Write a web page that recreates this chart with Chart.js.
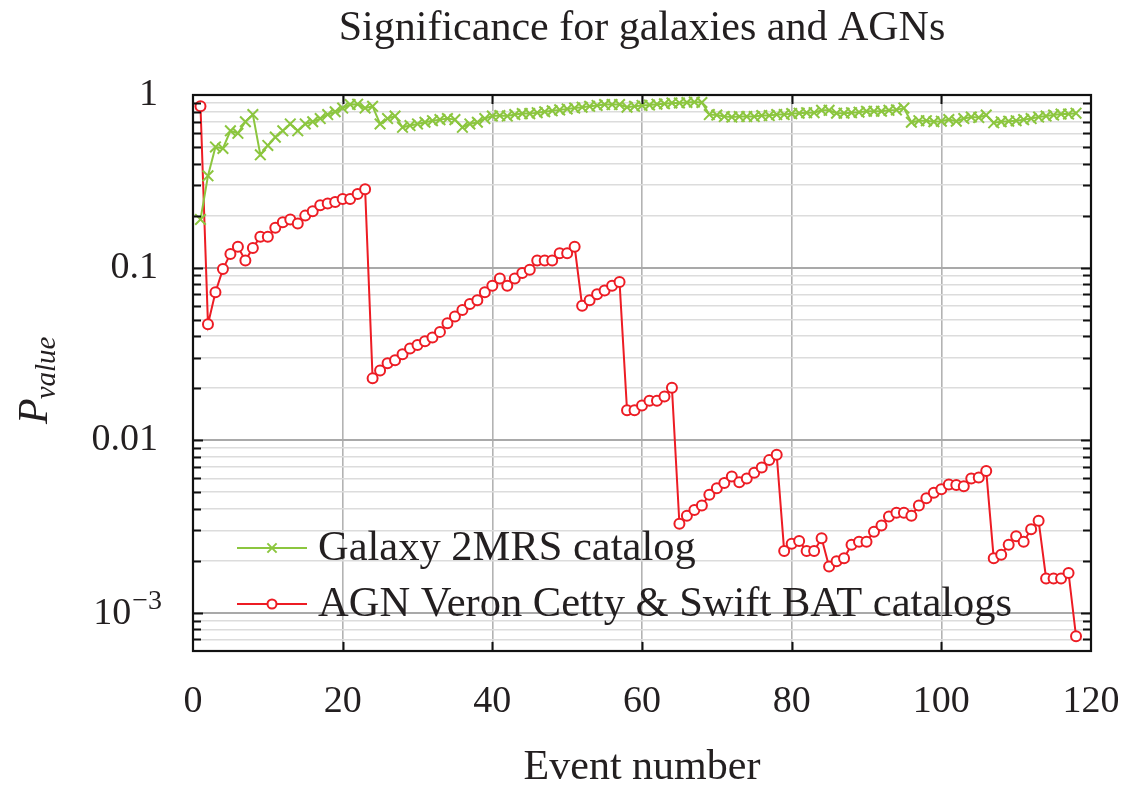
<!DOCTYPE html>
<html><head><meta charset="utf-8">
<script src="https://cdn.jsdelivr.net/npm/chart.js@4.4.0/dist/chart.umd.min.js"></script>
<style>html,body{margin:0;padding:0;background:#fff;}#wrap{width:1132px;height:786px;}</style>
</head><body><div id="wrap"><canvas id="c" width="1132" height="786"></canvas></div>
<script>
// ---- data ----
const chartTitle = 'Significance for galaxies and AGNs';
const xAxisTitle = 'Event number';
const seriesNames = ['Galaxy 2MRS catalog', 'AGN Veron Cetty & Swift BAT catalogs'];
const eventNumbers = Array.from({length: 118}, (_, i) => i + 1);
const galaxyPvalues = [
  0.19, 0.34, 0.50, 0.49, 0.62, 0.60, 0.70, 0.77, 0.45, 0.51,
  0.57, 0.62, 0.68, 0.62, 0.68, 0.70, 0.73, 0.77, 0.80, 0.84,
  0.88, 0.885, 0.84, 0.86, 0.68, 0.73, 0.755, 0.65, 0.665, 0.68,
  0.695, 0.71, 0.72, 0.73, 0.72, 0.65, 0.68, 0.695, 0.73, 0.755,
  0.76, 0.755, 0.77, 0.78, 0.78, 0.79, 0.80, 0.81, 0.82, 0.83,
  0.84, 0.85, 0.86, 0.87, 0.88, 0.88, 0.88, 0.85, 0.86, 0.87,
  0.875, 0.885, 0.89, 0.90, 0.90, 0.905, 0.91, 0.905, 0.77, 0.765,
  0.75, 0.745, 0.75, 0.75, 0.75, 0.76, 0.76, 0.77, 0.77, 0.78,
  0.785, 0.79, 0.79, 0.815, 0.815, 0.785, 0.785, 0.79, 0.795, 0.805,
  0.805, 0.805, 0.815, 0.82, 0.84, 0.695, 0.71, 0.71, 0.70, 0.705,
  0.72, 0.705, 0.73, 0.745, 0.74, 0.765, 0.69, 0.70, 0.705, 0.71,
  0.72, 0.73, 0.745, 0.755, 0.765, 0.775, 0.775, 0.785
];
const agnPvalues = [
  0.86, 0.047, 0.072, 0.098, 0.12, 0.132, 0.11, 0.13, 0.151, 0.151,
  0.17, 0.183, 0.19, 0.18, 0.20, 0.212, 0.23, 0.235, 0.24, 0.25,
  0.25, 0.267, 0.284, 0.0228, 0.0253, 0.0279, 0.029, 0.0315, 0.034, 0.0356,
  0.0374, 0.0393, 0.0424, 0.0476, 0.052, 0.0567, 0.0616, 0.0646, 0.072, 0.0785,
  0.0865, 0.0785, 0.0865, 0.093, 0.097, 0.11, 0.11, 0.11, 0.121, 0.121,
  0.132, 0.060, 0.0646, 0.070, 0.0736, 0.0785, 0.0824, 0.0149, 0.0149, 0.0159,
  0.0169, 0.0169, 0.0179, 0.0201, 0.00328, 0.00365, 0.00394, 0.00418, 0.00483, 0.00527,
  0.00565, 0.00616, 0.0057, 0.0060, 0.00647, 0.00695, 0.00766, 0.00824, 0.00228, 0.00251,
  0.0026, 0.00228, 0.00228, 0.0027, 0.00185, 0.00199, 0.00207, 0.00248, 0.00258, 0.00258,
  0.00295, 0.0032, 0.00361, 0.00379, 0.00379, 0.00365, 0.00418, 0.0046, 0.00495, 0.0052,
  0.00553, 0.0055, 0.0054, 0.0060, 0.00607, 0.00662, 0.00207, 0.00217, 0.00248, 0.00277,
  0.00258, 0.00305, 0.00341, 0.00158, 0.00158, 0.00158, 0.0017, 0.00073
];
const xTickValues = [0, 20, 40, 60, 80, 100, 120];
const yMajorValues = [1, 0.1, 0.01, 0.001];
const yMajorLabels = ['1', '0.1', '0.01', '10^\u22123'];

// ---- styling ----
const GREEN = '#8cc63f';
const RED = '#ed1c24';
const TEXT = '#231f20';
const FONT = '"Liberation Serif", "DejaVu Serif", serif';
const Y_MIN = 0.00062, Y_MAX = 1;

function isPow10(v) {
  const l = Math.log10(v);
  return Math.abs(l - Math.round(l)) < 1e-9;
}

const decorations = {
  id: 'decorations',
  afterDatasetsDraw(chart) {
    const {ctx, chartArea: a, scales: {x, y}} = chart;
    ctx.save();
    ctx.strokeStyle = '#111';
    ctx.lineWidth = 2;
    ctx.beginPath();
    y.ticks.forEach(t => {
      const py = Math.round(y.getPixelForValue(t.value)) + 0.5;
      if (py < a.top + 1 || py > a.bottom - 1) return;
      const len = isPow10(t.value) ? 10 : 8;
      ctx.moveTo(a.left, py); ctx.lineTo(a.left + len, py);
      ctx.moveTo(a.right, py); ctx.lineTo(a.right - len, py);
    });
    x.ticks.forEach(t => {
      const px = Math.round(x.getPixelForValue(t.value)) + 0.5;
      if (px < a.left + 1 || px > a.right - 1) return;
      ctx.moveTo(px, a.bottom); ctx.lineTo(px, a.bottom - 9);
      ctx.moveTo(px, a.top); ctx.lineTo(px, a.top + 9);
    });
    ctx.stroke();
    ctx.lineWidth = 2.2;
    ctx.strokeRect(a.left, a.top, a.right - a.left, a.bottom - a.top);
    ctx.restore();
  },
  afterDraw(chart) {
    const {ctx, chartArea: a, scales: {y}} = chart;
    ctx.save();
    ctx.fillStyle = TEXT;
    // title
    ctx.font = '42px ' + FONT;
    ctx.textAlign = 'center';
    ctx.textBaseline = 'middle';
    ctx.fillText(chartTitle, (a.left + a.right) / 2, 29);

    // power-of-ten tick labels with superscript
    yMajorValues.forEach((v, i) => {
      const lab = yMajorLabels[i];
      if (lab.indexOf('^') < 0) return;
      const [base, exp] = lab.split('^');
      const py = y.getPixelForValue(v);
      const rightX = a.left - 31;
      ctx.textAlign = 'right';
      ctx.textBaseline = 'middle';
      ctx.font = '28px ' + FONT;
      const wExp = ctx.measureText(exp).width;
      ctx.fillText(exp, rightX, py - 11);
      ctx.font = '38px ' + FONT;
      ctx.fillText(base, rightX - wExp - 1, py + 1);
    });

    // y-axis label P_value
    ctx.translate(47, 424);
    ctx.rotate(-Math.PI / 2);
    ctx.textAlign = 'left';
    ctx.textBaseline = 'alphabetic';
    ctx.font = 'italic 42px ' + FONT;
    ctx.fillText('P', 0, 0);
    const wP = ctx.measureText('P').width;
    ctx.font = 'italic 29px ' + FONT;
    ctx.fillText('value', wP - 1, 8);
    ctx.restore();

    // legend
    const items = [
      {label: seriesNames[0], color: GREEN, style: 'crossRot', radius: 6.5, y: 548},
      {label: seriesNames[1], color: RED, style: 'circle', radius: 4.5, y: 604}
    ];
    ctx.save();
    items.forEach(it => {
      ctx.strokeStyle = it.color;
      ctx.lineWidth = 2;
      ctx.beginPath();
      ctx.moveTo(237, it.y); ctx.lineTo(307, it.y);
      ctx.stroke();
      ctx.fillStyle = '#fff';
      Chart.helpers.drawPoint(ctx, {pointStyle: it.style, radius: it.radius, borderWidth: 2, rotation: 0}, 272, it.y);
      ctx.fillStyle = TEXT;
      ctx.font = '42.5px ' + FONT;
      ctx.textAlign = 'left';
      ctx.textBaseline = 'middle';
      ctx.fillText(it.label, 318, it.y + 1);
    });
    ctx.restore();
  }
};

new Chart(document.getElementById('c'), {
  type: 'line',
  data: {
    datasets: [
      {
        label: seriesNames[0],
        data: eventNumbers.map((n, i) => ({x: n, y: galaxyPvalues[i]})),
        borderColor: GREEN, backgroundColor: GREEN,
        borderWidth: 2, tension: 0,
        pointStyle: 'crossRot', pointRadius: 7.5, pointBorderWidth: 2,
        pointBorderColor: GREEN
      },
      {
        label: seriesNames[1],
        data: eventNumbers.map((n, i) => ({x: n, y: agnPvalues[i]})),
        borderColor: RED, backgroundColor: '#fff',
        borderWidth: 2, tension: 0,
        pointStyle: 'circle', pointRadius: 5, pointBorderWidth: 2,
        pointBackgroundColor: '#fff', pointBorderColor: RED
      }
    ]
  },
  options: {
    responsive: false,
    animation: false,
    devicePixelRatio: 1,
    layout: {padding: {top: 95, right: 41, left: 0, bottom: 0}},
    plugins: {legend: {display: false}, title: {display: false}, tooltip: {enabled: false}},
    scales: {
      x: {
        type: 'linear', min: 0, max: 120,
        afterFit(s) { s.height = 135; s.paddingLeft = 0; s.paddingRight = 0; },
        afterBuildTicks(s) { s.ticks = xTickValues.map(v => ({value: v})); },
        ticks: {font: {family: FONT, size: 38}, color: TEXT, padding: 28, maxRotation: 0, autoSkip: false},
        grid: {
          drawTicks: false,
          color: c => (c.tick && (c.tick.value === 0 || c.tick.value === 120)) ? 'rgba(0,0,0,0)' : '#b3b3b3',
          lineWidth: 1.6
        },
        border: {display: false},
        title: {display: true, text: xAxisTitle, font: {family: FONT, size: 42, lineHeight: 0.85}, color: TEXT, padding: {top: 0, bottom: 0}}
      },
      y: {
        type: 'logarithmic', min: Y_MIN, max: Y_MAX,
        afterFit(s) { s.width = 193; s.paddingTop = 0; s.paddingBottom = 0; },
        afterBuildTicks(s) {
          const t = [];
          for (let e = -4; e <= 0; e++) {
            for (let m = 1; m <= 9; m++) {
              const v = parseFloat((m * Math.pow(10, e)).toPrecision(6));
              if (v >= Y_MIN && v <= Y_MAX) t.push({value: v, major: isPow10(v)});
            }
          }
          s.ticks = t;
        },
        ticks: {
          autoSkip: false,
          font: {family: FONT, size: 38}, color: TEXT, padding: 35,
          callback: v => {
            const i = yMajorValues.findIndex(m => Math.abs(m - v) / m < 1e-6);
            if (i < 0) return '';
            return yMajorLabels[i].indexOf('^') >= 0 ? '' : yMajorLabels[i];
          }
        },
        grid: {
          drawTicks: false,
          color: c => (c.tick && isPow10(c.tick.value)) ? '#a9a9a9' : '#dcdcdc',
          lineWidth: c => (c.tick && isPow10(c.tick.value)) ? 2 : 1.5
        },
        border: {display: false}
      }
    }
  },
  plugins: [decorations]
});
</script>
</body></html>
